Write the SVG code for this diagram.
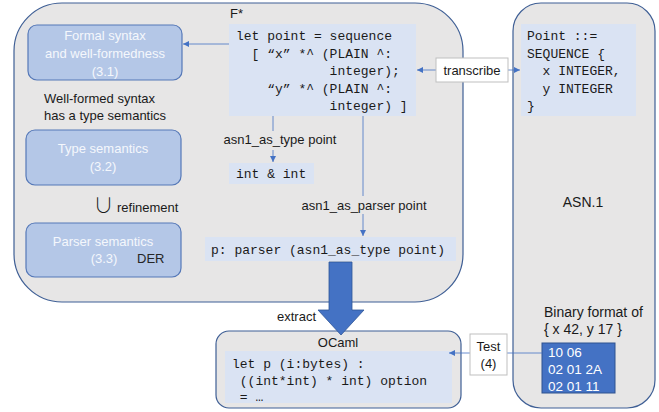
<svg xmlns="http://www.w3.org/2000/svg" width="659" height="412" viewBox="0 0 659 412">
<style>
.cont{fill:#e7e6e6;stroke:#3f5f95;stroke-width:1.2}
.sem{fill:#b4c7e7;stroke:#5578b8;stroke-width:1.2}
.code{fill:#dae3f3;stroke:none}
.lbl{font-family:"Liberation Sans",Arial,sans-serif;font-size:13px;fill:#1a1a1a}
.semt{font-family:"Liberation Sans",Arial,sans-serif;font-size:13px;fill:#f4f7fc;text-anchor:middle}
.mono{font-family:"Liberation Mono","DejaVu Sans Mono",monospace;font-size:13px;fill:#1a1a1a}
.conn{stroke:#4472c4;stroke-width:0.8;fill:none}
.box{fill:#ffffff;stroke:#bfbfbf;stroke-width:1}
</style>
<defs>
<marker id="ah" viewBox="0 0 6 6" refX="6" refY="3" markerWidth="6" markerHeight="6" markerUnits="userSpaceOnUse" orient="auto">
<path d="M0,0 L6,3 L0,6 Z" fill="#4472c4"/>
</marker>
</defs>

<g id="fstar">
<rect class="cont" x="14" y="3" width="449" height="299" rx="48" ry="48"/>
<text class="lbl" x="230" y="18">F*</text>
</g>

<g id="asn1">
<rect class="cont" x="513" y="3" width="142" height="405" rx="28" ry="28"/>
<text x="583" y="207" text-anchor="middle" style="font-family:'Liberation Sans',Arial,sans-serif;font-size:14px;fill:#1a1a1a">ASN.1</text>
</g>

<g id="formal-syntax">
<rect class="sem" x="28" y="25" width="154" height="55" rx="9"/>
<text class="semt" x="105" y="40">Formal syntax</text>
<text class="semt" x="105" y="58">and well-formedness</text>
<text class="semt" x="105" y="76">(3.1)</text>
</g>

<g id="wf-text">
<text class="lbl" x="44" y="103">Well-formed syntax</text>
<text class="lbl" x="44" y="120">has a type semantics</text>
</g>

<g id="type-semantics">
<rect class="sem" x="26" y="130" width="155" height="55" rx="9"/>
<text class="semt" x="103" y="153">Type semantics</text>
<text class="semt" x="103" y="171">(3.2)</text>
</g>

<g id="refinement">
<text x="103.5" y="213" text-anchor="middle" style="font-family:'Noto Sans CJK SC','DejaVu Sans',sans-serif;font-size:20px;font-weight:300;fill:#1a1a1a">∪</text>
<text class="lbl" x="117" y="212">refinement</text>
</g>

<g id="parser-semantics">
<rect class="sem" x="26" y="223" width="155" height="54" rx="9"/>
<text class="semt" x="103" y="246">Parser semantics</text>
<text class="semt" x="104" y="263">(3.3)</text>
<text class="lbl" x="137" y="263" style="fill:#262626">DER</text>
</g>

<g id="fstar-code">
<rect class="code" x="229" y="24" width="187" height="92"/>
<text class="mono" xml:space="preserve"><tspan x="236" y="40">let point = sequence</tspan><tspan x="236" y="57.5">  [ “x” *^ (PLAIN ^:</tspan><tspan x="236" y="75">            integer);</tspan><tspan x="236" y="92.5">    “y” *^ (PLAIN ^:</tspan><tspan x="236" y="110">            integer) ]</tspan></text>
</g>

<g id="int-int">
<rect class="code" x="229" y="163" width="85" height="21"/>
<text class="mono" x="236" y="178">int &amp; int</text>
</g>

<g id="parser-code">
<rect class="code" x="205" y="237" width="251" height="24"/>
<text class="mono" x="211" y="254">p: parser (asn1_as_type point)</text>
</g>

<g id="asn1-code">
<rect class="code" x="521" y="24" width="115" height="92"/>
<text class="mono" xml:space="preserve"><tspan x="527" y="40">Point ::=</tspan><tspan x="527" y="57.5">SEQUENCE {</tspan><tspan x="527" y="75">  x INTEGER,</tspan><tspan x="527" y="92.5">  y INTEGER</tspan><tspan x="527" y="110">}</tspan></text>
</g>

<g id="binary">
<text class="lbl" x="544" y="317" style="font-size:14px">Binary format of</text>
<text class="lbl" x="544" y="334" style="font-size:14px">{ x 42, y 17 }</text>
<rect x="542" y="343" width="73" height="50" fill="#4472c4" stroke="#2f528f" stroke-width="1"/>
<text class="lbl" style="fill:#ffffff;font-size:13.5px"><tspan x="548" y="357">10 06</tspan><tspan x="548" y="374">02 01 2A</tspan><tspan x="548" y="391">02 01 11</tspan></text>
</g>

<g id="ocaml">
<rect class="cont" x="216" y="331" width="245" height="77" rx="13"/>
<text class="lbl" x="338" y="347" text-anchor="middle">OCaml</text>
<rect class="code" x="225" y="351" width="227" height="52"/>
<text class="mono" xml:space="preserve"><tspan x="232" y="368">let p (i:bytes) :</tspan><tspan x="232" y="385"> ((int*int) * int) option</tspan><tspan x="232" y="401"> = …</tspan></text>
</g>

<g id="connectors">
<line class="conn" x1="229" y1="44" x2="183" y2="44" marker-end="url(#ah)"/>
<line class="conn" x1="436" y1="70" x2="417" y2="70" marker-end="url(#ah)"/>
<line class="conn" x1="508" y1="70" x2="520" y2="70" marker-end="url(#ah)"/>
<line class="conn" x1="273" y1="116" x2="273" y2="131"/>
<line class="conn" x1="273" y1="150" x2="273" y2="162" marker-end="url(#ah)"/>
<line class="conn" x1="363" y1="116" x2="363" y2="196"/>
<line class="conn" x1="363" y1="214" x2="363" y2="236" marker-end="url(#ah)"/>
<line class="conn" x1="542" y1="353" x2="507" y2="353"/>
<line class="conn" x1="470" y1="353" x2="449" y2="353" marker-end="url(#ah)"/>
<path d="M329,262 L352,262 L352,310 L364,310 L341,335 L318,310 L329,310 Z" fill="#4472c4" stroke="#2f5597" stroke-width="0.8"/>
<rect class="box" x="436" y="58" width="72" height="24"/>
<text class="lbl" x="472" y="75" text-anchor="middle">transcribe</text>
<rect class="box" x="470" y="334" width="37" height="41"/>
<text class="lbl" x="488.5" y="351" text-anchor="middle">Test</text>
<text class="lbl" x="488.5" y="368" text-anchor="middle">(4)</text>
<text class="lbl" x="280" y="144" text-anchor="middle">asn1_as_type point</text>
<text class="lbl" x="364" y="210" text-anchor="middle">asn1_as_parser point</text>
<text class="lbl" x="277" y="321">extract</text>
</g>
</svg>
